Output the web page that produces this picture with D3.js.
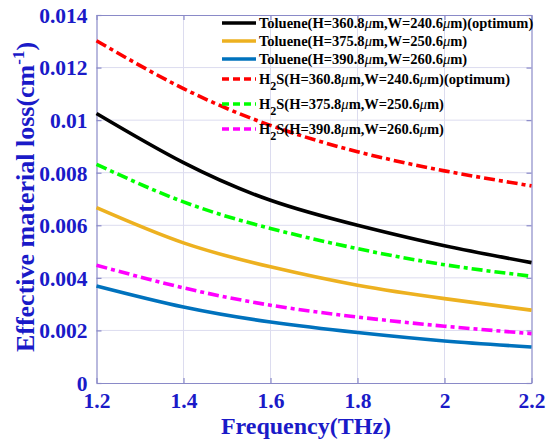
<!DOCTYPE html>
<html><head><meta charset="utf-8">
<script src="https://cdn.jsdelivr.net/npm/d3@7"></script>
<style>body{margin:0;background:#fff}svg{display:block}</style>
</head><body>
<svg id="c" width="546" height="441"></svg>
<script>
const freq = [1.2, 1.4, 1.6, 1.8, 2.0, 2.2];
const tolueneOpt = [0.01025, 0.00838, 0.00695, 0.00600, 0.00522, 0.00458];
const toluene375 = [0.00667, 0.00533, 0.00442, 0.00372, 0.00321, 0.00277];
const toluene390 = [0.00369, 0.00289, 0.00232, 0.00192, 0.00160, 0.00137];
const h2sOpt = [0.01302, 0.01120, 0.00980, 0.00880, 0.00807, 0.00750];
const h2s375 = [0.00832, 0.00689, 0.00588, 0.00511, 0.00450, 0.00406];
const h2s390 = [0.00448, 0.00362, 0.00296, 0.00251, 0.00216, 0.00188];
const xTicks = [1.2, 1.4, 1.6, 1.8, 2.0, 2.2];
const xTickLabels = ["1.2", "1.4", "1.6", "1.8", "2", "2.2"];
const yTicks = [0, 0.002, 0.004, 0.006, 0.008, 0.010, 0.012, 0.014];
const yTickLabels = ["0", "0.002", "0.004", "0.006", "0.008", "0.01", "0.012", "0.014"];
const seriesNames = ["Toluene", "Toluene", "Toluene", "H2S", "H2S", "H2S"];
const seriesH = ["360.8", "375.8", "390.8", "360.8", "375.8", "390.8"];
const seriesW = ["240.6", "250.6", "260.6", "240.6", "250.6", "260.6"];
const seriesOpt = [true, false, false, true, false, false];
const seriesValues = [tolueneOpt, toluene375, toluene390, h2sOpt, h2s375, h2s390];
const seriesColors = ["#000000", "#EDB120", "#0072BD", "#FF0000", "#00FF00", "#FF00FF"];
const seriesDashed = [false, false, false, true, true, true];

const svg = d3.select("#c");
const L = 96.5, R = 531.5, T = 15, B = 383;
const x = d3.scaleLinear().domain([1.2, 2.2]).range([L, R]);
const y = d3.scaleLinear().domain([0, 0.014]).range([B, T]);
const axisCol = "#8a8ac8", gridCol = "#dcdcef", txtCol = "#1a1ac8";
const font = "'Liberation Serif','Times New Roman',serif";

// grid
svg.append("g").selectAll("line.gx").data(xTicks.slice(1, -1)).join("line")
  .attr("x1", d => x(d)).attr("x2", d => x(d)).attr("y1", T).attr("y2", B)
  .attr("stroke", gridCol).attr("stroke-width", 1);
svg.append("g").selectAll("line.gy").data(yTicks.slice(1, -1)).join("line")
  .attr("y1", d => y(d)).attr("y2", d => y(d)).attr("x1", L).attr("x2", R)
  .attr("stroke", gridCol).attr("stroke-width", 1);

// axes
const xa = svg.append("g").attr("transform", `translate(0,${B})`)
  .call(d3.axisBottom(x).tickValues(xTicks).tickSizeInner(-5).tickSizeOuter(0).tickFormat((d, i) => xTickLabels[i]));
const xa2 = svg.append("g").attr("transform", `translate(0,${T})`)
  .call(d3.axisTop(x).tickValues(xTicks).tickSizeInner(-5).tickSizeOuter(0).tickFormat(""));
const ya = svg.append("g").attr("transform", `translate(${L},0)`)
  .call(d3.axisLeft(y).tickValues(yTicks).tickSizeInner(-5).tickSizeOuter(0).tickFormat((d, i) => yTickLabels[i]));
const ya2 = svg.append("g").attr("transform", `translate(${R},0)`)
  .call(d3.axisRight(y).tickValues(yTicks).tickSizeInner(-5).tickSizeOuter(0).tickFormat(""));
[xa, xa2, ya, ya2].forEach(g => {
  g.selectAll("path,line").attr("stroke", axisCol).attr("stroke-width", 1.2);
  g.selectAll("text").attr("fill", txtCol).attr("font-family", font)
    .attr("font-weight", "bold").attr("font-size", 21.5);
});
xa.selectAll("text").attr("dy", null).attr("y", 25);
ya.selectAll("text").attr("x", -9).attr("dy", "0.34em");

// lines
const line = d3.line().x((d, i) => x(freq[i])).y(d => y(d)).curve(d3.curveNatural);
seriesValues.forEach((vals, k) => {
  svg.append("path").datum(vals).attr("d", line)
    .attr("fill", "none").attr("stroke", seriesColors[k]).attr("stroke-width", 3.6)
    .attr("stroke-dasharray", seriesDashed[k] ? "11,4,4,4" : null);
});

// legend
const legY = [23, 41, 59, 79, 104, 129];
const lg = svg.append("g");
seriesValues.forEach((vals, k) => {
  lg.append("line").attr("x1", 222).attr("x2", 256).attr("y1", legY[k]).attr("y2", legY[k])
    .attr("stroke", seriesColors[k]).attr("stroke-width", 3.6)
    .attr("stroke-dasharray", seriesDashed[k] ? "7,4" : null);
  const t = lg.append("text").attr("x", 259).attr("y", legY[k] + 5)
    .attr("font-family", font).attr("font-weight", "bold").attr("font-size", 14.5).attr("fill", "#000");
  if (seriesNames[k] === "H2S") {
    t.append("tspan").text("H");
    t.append("tspan").attr("dy", 6).attr("font-size", 12).text("2");
    t.append("tspan").attr("dy", -6).text("S(H=" + seriesH[k] + "");
  } else {
    t.append("tspan").text(seriesNames[k] + "(H=" + seriesH[k]);
  }
  t.append("tspan").attr("font-style", "italic").attr("font-weight", "normal").text("μ");
  t.append("tspan").text("m,W=" + seriesW[k]);
  t.append("tspan").attr("font-style", "italic").attr("font-weight", "normal").text("μ");
  t.append("tspan").text("m)" + (seriesOpt[k] ? "(optimum)" : ""));
});

// axis labels
svg.append("text").attr("x", 306).attr("y", 434).attr("text-anchor", "middle")
  .attr("font-family", font).attr("font-weight", "bold").attr("font-size", 24).attr("fill", txtCol)
  .text("Frequency(THz)");
const yl = svg.append("text").attr("transform", "translate(34,197) rotate(-90)").attr("text-anchor", "middle")
  .attr("font-family", font).attr("font-weight", "bold").attr("font-size", 26).attr("fill", txtCol);
yl.append("tspan").text("Effective material loss(cm");
yl.append("tspan").attr("dy", -10).attr("font-size", 17).text("-1");
yl.append("tspan").attr("dy", 10).text(")");
</script>
</body></html>
